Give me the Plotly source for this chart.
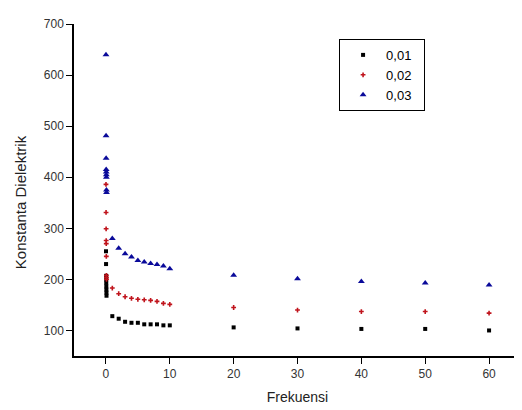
import plotly.graph_objects as go

freq = [0.01, 0.02, 0.03, 0.04, 0.05, 0.06, 0.07, 0.08, 0.09,
        1, 2, 3, 4, 5, 6, 7, 8, 9, 10, 20, 30, 40, 50, 60]

k_001 = [255, 230, 207, 200, 193, 186, 180, 174, 168,
         128, 123, 117, 115, 115, 112, 112, 112, 110, 110, 106, 104, 103, 103, 100]
k_002 = [386, 331, 299, 276, 270, 245, 208, 204, 200,
         183, 172, 166, 163, 161, 160, 159, 157, 153, 151, 145, 140, 137, 137, 134]
k_003 = [640, 481, 437, 415, 410, 405, 400, 375, 370,
         280, 261, 250, 244, 237, 234, 231, 229, 226, 221, 208, 201, 196, 193, 189]

names = ["0,01", "0,02", "0,03"]
x_ticks = [0, 10, 20, 30, 40, 50, 60]
y_ticks = [100, 200, 300, 400, 500, 600, 700]

pad = "\u00a0\u00a0"

fig = go.Figure()
fig.add_trace(go.Scatter(x=freq, y=k_001, mode="markers", name=names[0] + pad,
                         marker=dict(symbol="square", size=4, color="black")))
fig.add_trace(go.Scatter(x=freq, y=k_002, mode="markers", name=names[1] + pad,
                         marker=dict(symbol="cross", size=4, color="#c0141c")))
fig.add_trace(go.Scatter(x=freq, y=k_003, mode="markers", name=names[2] + pad,
                         marker=dict(symbol="triangle-up", size=6, color="#0a0a9a")))

axis_common = dict(showline=True, linecolor="black", linewidth=1.5, ticks="outside",
                   ticklen=6, tickwidth=1.2, tickcolor="black", showgrid=False,
                   zeroline=False, mirror=False,
                   tickfont=dict(family="Liberation Sans, Arial", size=12, color="#333333"))

fig.update_layout(
    width=522, height=410,
    margin=dict(l=66, r=9, t=9, b=62),
    plot_bgcolor="white", paper_bgcolor="white",
    font=dict(family="Liberation Sans, Arial", color="#222222"),
    xaxis=dict(range=[-5, 65], tickvals=x_ticks, ticktext=[str(v) for v in x_ticks],
               title=dict(text="Frekuensi", font=dict(size=14, color="#222222"), standoff=12),
               **axis_common),
    yaxis=dict(range=[50, 700], tickvals=y_ticks, ticktext=[str(v) for v in y_ticks],
               **axis_common),
    legend=dict(x=0.593, y=0.955, xanchor="left", yanchor="top",
                bordercolor="black", borderwidth=1, bgcolor="white",
                font=dict(family="Liberation Sans, Arial", size=13, color="black"),
                itemsizing="trace", tracegroupgap=0,
                itemwidth=36),
    showlegend=True,
)

fig.add_annotation(text="Konstanta Dielektrik", textangle=-90, showarrow=False,
                   xref="paper", yref="paper", x=-0.121, y=0.463,
                   xanchor="center", yanchor="middle",
                   font=dict(family="Liberation Sans, Arial", size=15, color="#222222"))

fig.write_html("out.html")
